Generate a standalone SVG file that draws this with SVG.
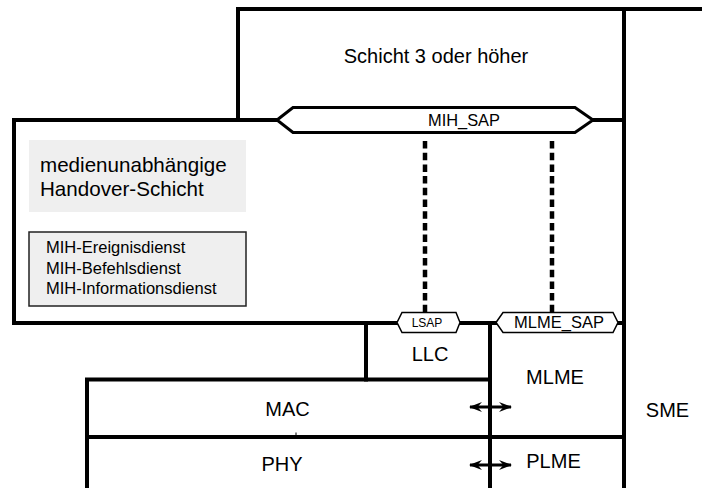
<svg xmlns="http://www.w3.org/2000/svg" width="702" height="488" viewBox="0 0 702 488">
  <defs>
    <style>
      .frame { fill: none; stroke: #000; stroke-width: 4; stroke-linecap: square; }
      .sap { fill: #fff; stroke: #000; stroke-linejoin: miter; }
      .lbl { font-family: "Liberation Sans", Arial, sans-serif; fill: #000; }
      .big { font-size: 20px; text-anchor: middle; }
      .dash { stroke: #000; stroke-width: 4.5; stroke-dasharray: 7.5 4.2; fill: none; }
      .arrow { stroke: #000; stroke-width: 2.8; fill: none; marker-start: url(#head); marker-end: url(#head); }
    </style>
    <marker id="head" viewBox="0 0 13 11" refX="12" refY="5.5" markerWidth="13" markerHeight="11" orient="auto-start-reverse" markerUnits="userSpaceOnUse">
      <path d="M0,0.5 L13,5.5 L0,10.5 L4.5,5.5 Z" fill="#000"/>
    </marker>
  </defs>
  <rect width="702" height="488" fill="#fff"/>

  <!-- layer outlines -->
  <g id="frame">
    <path class="frame" d="M238,120 V9 H702"/>
    <path class="frame" d="M624,9 V488"/>
    <path class="frame" d="M277,120 H14 V323 H397"/>
    <path class="frame" d="M460,323 H496"/>
    <path class="frame" d="M618,323 H624"/>
    <path class="frame" d="M593,120 H624"/>
    <path class="frame" d="M366,323 V379.5"/>
    <path class="frame" d="M490,323 V488"/>
    <path class="frame" d="M87,488 V379.5 H490"/>
    <path class="frame" d="M87,437 H624"/>
    <line x1="296" y1="432.5" x2="296" y2="436" stroke="#000" stroke-width="1"/>
  </g>

  <g id="layer3">
    <text class="lbl big" x="436" y="63" font-size="20.5">Schicht 3 oder höher</text>
  </g>

  <g id="mih">
    <rect x="29" y="140" width="217" height="72" fill="#efefef"/>
    <text class="lbl" x="40" y="172" font-size="20.6">medienunabhängige</text>
    <text class="lbl" x="40" y="196" font-size="20.6">Handover-Schicht</text>
  </g>

  <g id="mih-services">
    <rect x="29" y="232" width="217" height="74" fill="#efefef" stroke="#222" stroke-width="1.5"/>
    <text class="lbl" x="46" y="253" font-size="16.5">MIH-Ereignisdienst</text>
    <text class="lbl" x="46" y="274" font-size="16.5">MIH-Befehlsdienst</text>
    <text class="lbl" x="46" y="294" font-size="16.5">MIH-Informationsdienst</text>
  </g>

  <g id="mih-sap">
    <polygon class="sap" stroke-width="3" points="277,120 293,107.5 575,107.5 593,120 575,132.5 293,132.5"/>
    <text class="lbl" x="464" y="126" font-size="16.4" text-anchor="middle">MIH_SAP</text>
  </g>

  <g id="lsap">
    <polygon class="sap" stroke-width="1.5" points="397,322.5 402,312.5 456,312.5 460,322.5 456,332.5 402,332.5"/>
    <text class="lbl" x="427" y="327" font-size="12" text-anchor="middle">LSAP</text>
  </g>

  <g id="mlme-sap">
    <polygon class="sap" stroke-width="1.5" points="496,322.5 503,312.5 613,312.5 618,322.5 613,332.5 503,332.5"/>
    <text class="lbl" x="559" y="328" font-size="16.5" text-anchor="middle">MLME_SAP</text>
  </g>

  <g id="llc">
    <text class="lbl big" x="430" y="361">LLC</text>
  </g>

  <g id="mlme">
    <text class="lbl big" x="555" y="384">MLME</text>
  </g>

  <g id="mac">
    <text class="lbl big" x="287.5" y="416">MAC</text>
  </g>

  <g id="phy">
    <text class="lbl big" x="282" y="471">PHY</text>
  </g>

  <g id="plme">
    <text class="lbl big" x="553.5" y="468">PLME</text>
  </g>

  <g id="sme">
    <text class="lbl big" x="667.5" y="417">SME</text>
  </g>

  <!-- connectors -->
  <g id="connectors">
    <line class="dash" x1="425" y1="141" x2="425" y2="312"/>
    <line class="dash" x1="552" y1="141" x2="552" y2="312"/>
    <line class="arrow" x1="470" y1="407" x2="511" y2="407"/>
    <line class="arrow" x1="470" y1="465" x2="511" y2="465"/>
  </g>
</svg>
